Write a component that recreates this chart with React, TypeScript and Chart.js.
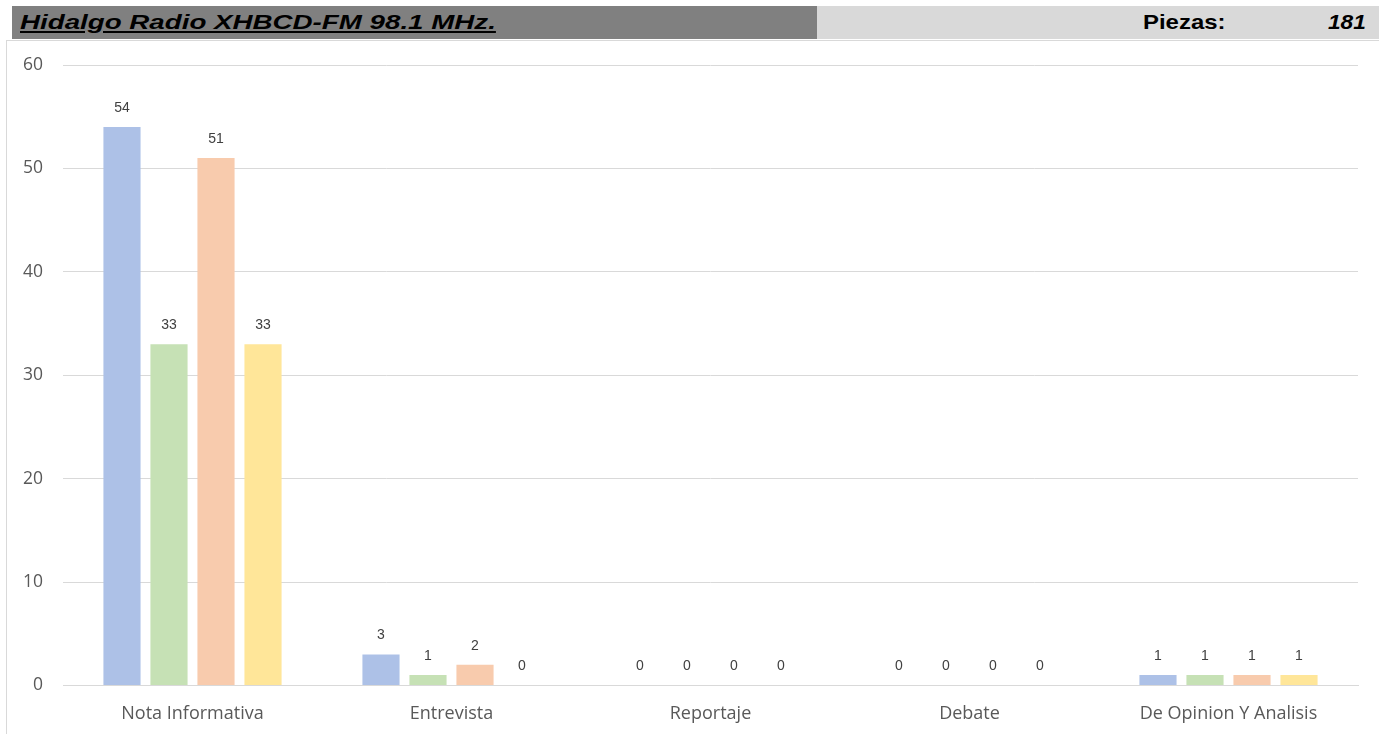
import React, { useEffect, useRef } from "react";
import { Chart, registerables } from "chart.js";

Chart.register(...registerables);

const categories = ["Nota Informativa", "Entrevista", "Reportaje", "Debate", "De Opinion Y Analisis"];
const seriesA = [54, 3, 0, 0, 1];
const seriesB = [33, 1, 0, 0, 1];
const seriesC = [51, 2, 0, 0, 1];
const seriesD = [33, 0, 0, 0, 1];
const seriesColors = ["#adc1e7", "#c6e1b5", "#f8cbad", "#ffe699"];
const yTicks = [0, 10, 20, 30, 40, 50, 60];
const titleText = "Hidalgo Radio XHBCD-FM 98.1 MHz.";
const piezasLabel = "Piezas:";
const piezasValue = "181";

const valueLabels = {
  id: "valueLabels",
  afterDatasetsDraw(chart: any) {
    const ctx = chart.ctx;
    ctx.save();
    ctx.font = "14px 'Liberation Sans', Arial, sans-serif";
    ctx.fillStyle = "#404040";
    ctx.textAlign = "center";
    ctx.textBaseline = "middle";
    chart.data.datasets.forEach((ds: any, i: number) => {
      const meta = chart.getDatasetMeta(i);
      meta.data.forEach((bar: any, j: number) => {
        ctx.fillText(String(ds.data[j]), bar.x, bar.y - 19);
      });
    });
    ctx.restore();
  },
};

const hdrFont = "'Liberation Sans', Arial, sans-serif";

export default function App() {
  const ref = useRef<HTMLCanvasElement>(null);
  useEffect(() => {
    document.body.style.margin = "0";
    const series = [seriesA, seriesB, seriesC, seriesD];
    const chart = new Chart(ref.current!, {
      type: "bar",
      data: {
        labels: categories,
        datasets: series.map((d, i) => ({
          label: "S" + (i + 1),
          data: d,
          backgroundColor: seriesColors[i],
          borderWidth: 0,
          categoryPercentage: 0.726,
          barPercentage: 0.79,
        })),
      },
      options: {
        animation: false,
        responsive: false,
        maintainAspectRatio: false,
        layout: { padding: { left: 0, right: 21, top: 25, bottom: 0 } },
        plugins: { legend: { display: false }, tooltip: { enabled: false } },
        scales: {
          x: {
            grid: { display: false, drawTicks: false },
            border: { color: "#d9d9d9", width: 1 },
            ticks: {
              padding: 18,
              maxRotation: 0,
              color: "#595959",
              font: { family: "'Open Sans', sans-serif", size: 18 },
            },
          },
          y: {
            min: 0,
            max: 60,
            afterBuildTicks(axis: any) {
              axis.ticks = yTicks.map((v) => ({ value: v }));
            },
            afterFit(axis: any) {
              axis.width = 63;
              axis.paddingTop = 10;
              axis.paddingBottom = 10;
            },
            grid: { color: "#d9d9d9", drawTicks: false },
            border: { display: false },
            ticks: {
              padding: 20,
              color: "#595959",
              font: { family: "'Open Sans', sans-serif", size: 17.5 },
            },
          },
        },
      },
      plugins: [valueLabels],
    });
    return () => chart.destroy();
  }, []);

  return (
    <div style={{ position: "relative", width: 1379, height: 734, background: "#fff", overflow: "hidden" }}>
      <div style={{ position: "absolute", left: 6, top: 40, width: 1400, height: 720, border: "1px solid #d9d9d9", boxSizing: "border-box" }} />
      <div style={{ position: "absolute", left: 12, top: 6, width: 805, height: 33, background: "#808080" }} />
      <div style={{ position: "absolute", left: 817, top: 6, width: 562, height: 33, background: "#d9d9d9" }} />
      <div
        style={{
          position: "absolute",
          left: 20,
          top: 7,
          fontFamily: hdrFont,
          fontWeight: "bold",
          fontStyle: "italic",
          textDecoration: "underline",
          fontSize: 21,
          color: "#000",
          lineHeight: "30px",
          whiteSpace: "nowrap",
          transform: "scaleX(1.32)",
          transformOrigin: "left center",
        }}
      >
        {titleText}
      </div>
      <div
        style={{
          position: "absolute",
          left: 1143,
          top: 7,
          fontFamily: hdrFont,
          fontWeight: "bold",
          fontSize: 21,
          color: "#000",
          lineHeight: "30px",
          whiteSpace: "nowrap",
          transform: "scaleX(1.14)",
          transformOrigin: "left center",
        }}
      >
        {piezasLabel}
      </div>
      <div
        style={{
          position: "absolute",
          left: 1328,
          top: 7,
          fontFamily: hdrFont,
          fontWeight: "bold",
          fontStyle: "italic",
          fontSize: 21,
          color: "#000",
          lineHeight: "30px",
          whiteSpace: "nowrap",
          transform: "scaleX(1.08)",
          transformOrigin: "left center",
        }}
      >
        {piezasValue}
      </div>
      <canvas ref={ref} width={1379} height={703} style={{ position: "absolute", left: 0, top: 40, width: 1379, height: 703 }} />
    </div>
  );
}
